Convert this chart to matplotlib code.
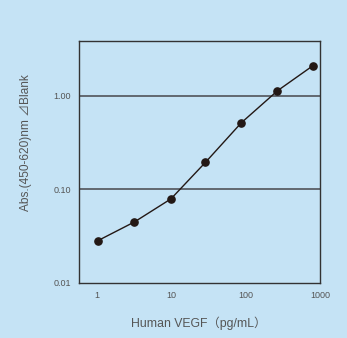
import matplotlib
matplotlib.use('Agg')
from matplotlib import pyplot as plt

# standard curve, 3-fold dilution series
conc = [1.04, 3.2, 9.9, 28.7, 87.6, 268, 806]
absorbance = [0.0282, 0.0446, 0.0787, 0.193, 0.514, 1.13, 2.10]

x_ticks = [1, 10, 100, 1000]
x_tick_labels = ['1', '10', '100', '1000']
y_ticks = [0.01, 0.1, 1.0]
y_tick_labels = ['0.01', '0.10', '1.00']

bg = '#c5e3f5'
text_gray = '#555555'
fonts = ['Liberation Sans', 'Noto Sans CJK JP', 'DejaVu Sans']
plt.rcParams['font.family'] = fonts

fig = plt.figure(figsize=(3.47, 3.38), dpi=100, facecolor=bg)
ax = fig.add_axes([0.2277, 0.164, 0.6945, 0.714], facecolor=bg)

ax.set_xscale('log')
ax.set_yscale('log')
ax.set_xlim(0.574, 1000)
ax.set_ylim(0.01, 3.83)

for yv in [0.1, 1.0]:
    ax.axhline(yv, color='#5a5f66', lw=1.3, zorder=1)

ax.plot(conc, absorbance, color='#231815', lw=1.0, marker='o',
        markersize=5.2, zorder=3)

ax.set_xticks(x_ticks)
ax.set_xticklabels(x_tick_labels)
ax.set_yticks(y_ticks)
ax.set_yticklabels(y_tick_labels)
ax.minorticks_off()
ax.tick_params(length=0, labelsize=6.5, colors=text_gray)
ax.tick_params(axis='x', pad=6)
ax.tick_params(axis='y', pad=6)

for s in ax.spines.values():
    s.set_color('#333333')
    s.set_linewidth(1.0)

fig.text(0.573, 0.044, 'Human VEGF（pg/mL）', ha='center', va='center',
         fontsize=8.8, color=text_gray)
fig.text(0.075, 0.577, 'Abs.(450-620)nm ⊿Blank', ha='center', va='center',
         rotation=90, fontsize=8.6, color=text_gray)

plt.savefig('out.png', dpi=100, facecolor=bg)
